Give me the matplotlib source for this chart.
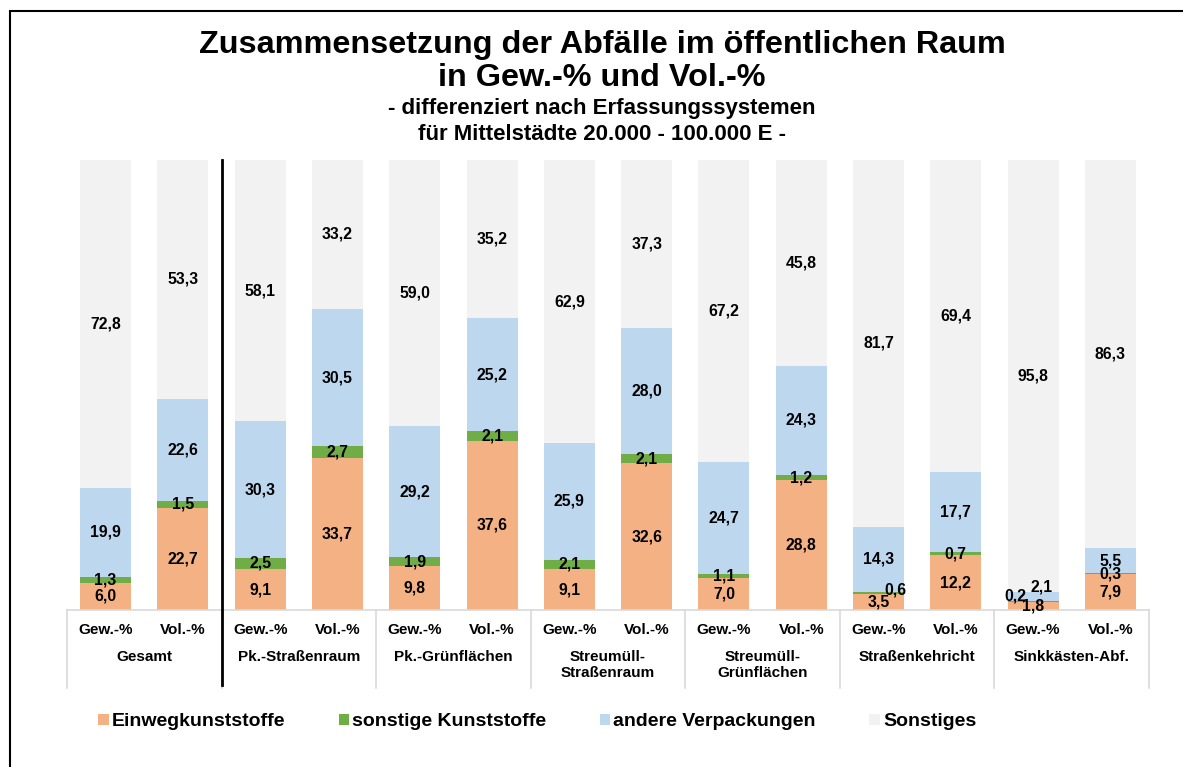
import numpy as np
import matplotlib
matplotlib.use("Agg")
import matplotlib.pyplot as plt
from matplotlib.patches import Rectangle
from matplotlib.transforms import blended_transform_factory

plt.rcParams['font.family'] = ['Liberation Sans', 'DejaVu Sans']
plt.rcParams['font.weight'] = 'bold'

# data: one value per bar (Gew.-% / Vol.-% pairs per collection system)
groups = ["Gesamt", "Pk.-Straßenraum", "Pk.-Grünflächen", "Streumüll-\nStraßenraum",
          "Streumüll-\nGrünflächen", "Straßenkehricht", "Sinkkästen-Abf."]
bar_labels = ["Gew.-%", "Vol.-%"] * len(groups)
series_names = ["Einwegkunststoffe", "sonstige Kunststoffe", "andere Verpackungen", "Sonstiges"]
einweg = [6.0, 22.7, 9.1, 33.7, 9.8, 37.6, 9.1, 32.6, 7.0, 28.8, 3.5, 12.2, 1.8, 7.9]
sonst_kunst = [1.3, 1.5, 2.5, 2.7, 1.9, 2.1, 2.1, 2.1, 1.1, 1.2, 0.6, 0.7, 0.2, 0.3]
verpackungen = [19.9, 22.6, 30.3, 30.5, 29.2, 25.2, 25.9, 28.0, 24.7, 24.3, 14.3, 17.7, 2.1, 5.5]
sonstiges = [72.8, 53.3, 58.1, 33.2, 59.0, 35.2, 62.9, 37.3, 67.2, 45.8, 81.7, 69.4, 95.8, 86.3]
colors = ["#F4B183", "#70AD47", "#BDD7EE", "#F2F2F2"]

# manual nudges (points) for crowded labels: (bar, series) -> (dx, dy)
label_nudge = {(10, 1): (12, 2), (12, 1): (-13, 4), (12, 2): (6, 7)}

fig = plt.figure(figsize=(11.83, 7.67), dpi=100)
ax = fig.add_axes([0.0566, 0.2047, 0.9147, 0.5867])

x = np.arange(len(bar_labels))
bottom = np.zeros(len(x))
for s, (vals, col, name) in enumerate(zip([einweg, sonst_kunst, verpackungen, sonstiges],
                                        colors, series_names)):
    vals = np.array(vals)
    ax.bar(x, vals, 0.66, bottom=bottom, color=col, label=name, zorder=2)
    for i, v in enumerate(vals):
        dx, dy = label_nudge.get((i, s), (0, 0))
        ax.annotate(f"{v:.1f}".replace(".", ","), (x[i], bottom[i] + v / 2),
                    xytext=(dx, dy), textcoords="offset points",
                    ha="center", va="center", fontsize=11.3, fontweight="bold", zorder=3)
    bottom += vals

ax.set_xlim(-0.5, len(x) - 0.5)
ax.set_ylim(0, 100)
for sp in ax.spines.values():
    sp.set_visible(False)
ax.set_yticks([])
ax.set_xticks([])

trans = blended_transform_factory(ax.transData, ax.transAxes)
ax.plot([-0.5, len(x) - 0.5], [0, 0], color="#D9D9D9", lw=1.2, transform=trans, clip_on=False)
for b in np.arange(-0.5, len(x), 2):
    ax.plot([b, b], [0, -0.173], color="#D9D9D9", lw=1.2, transform=trans, clip_on=False)
ax.plot([1.5, 1.5], [1.0, -0.167], color="black", lw=2, transform=trans, clip_on=False)

for i, lab in enumerate(bar_labels):
    ax.text(x[i], -0.045, lab, transform=trans, ha="center", va="center", fontsize=11)
for g, name in enumerate(groups):
    ax.text(2 * g + 0.5, -0.09, name, transform=trans, ha="center", va="top",
            fontsize=11, linespacing=1.15)

fig.text(0.509, 0.941, "Zusammensetzung der Abfälle im öffentlichen Raum",
         ha="center", va="center", fontsize=23.3, fontweight="bold")
fig.text(0.509, 0.898, "in Gew.-% und Vol.-%", ha="center", va="center", fontsize=23.3, fontweight="bold")
fig.text(0.509, 0.858, "- differenziert nach Erfassungssystemen", ha="center", va="center",
         fontsize=16, fontweight="bold")
fig.text(0.509, 0.825, "für Mittelstädte 20.000 - 100.000 E -", ha="center", va="center",
         fontsize=16, fontweight="bold")

fig.legend(loc="center left", bbox_to_anchor=(0.068, 0.059), ncol=4, frameon=False,
           handlelength=0.55, handleheight=0.55, handletextpad=0.15,
           columnspacing=2.75, prop={"weight": "bold", "size": 14})

fig.patches.append(Rectangle((10 / 1183, -0.2), 1.5, 1.2 - 11 / 767, transform=fig.transFigure,
                             fill=False, edgecolor="black", lw=1.5))

fig.savefig("out.png", dpi=100)
